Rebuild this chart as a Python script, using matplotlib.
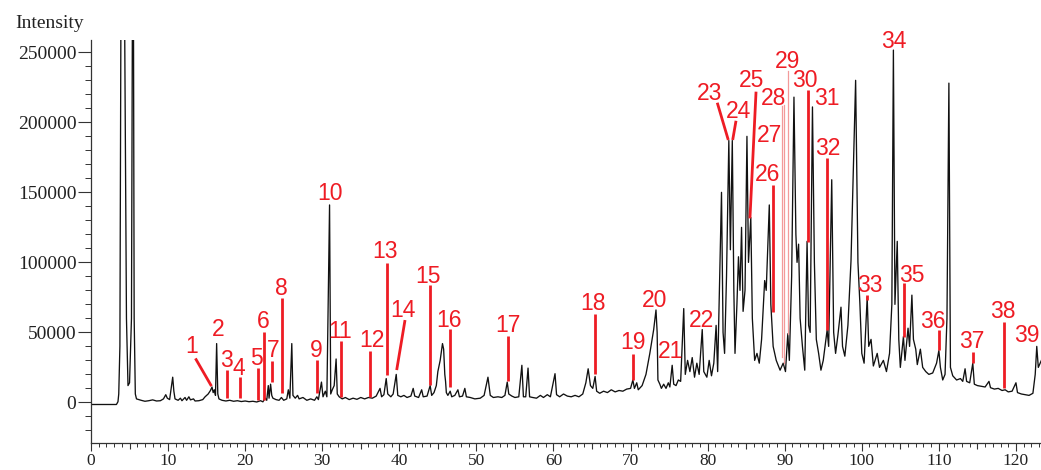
import matplotlib
matplotlib.use("Agg")
import matplotlib.pyplot as plt
from matplotlib.ticker import MultipleLocator

# ---- chromatogram trace (retention time, intensity) ----
trace_time = [
    0, 3.3, 3.5, 3.6, 3.75, 3.95, 4.2, 4.6, 4.8, 5.0, 5.25, 5.45, 5.6, 5.75, 5.9,
    6.5, 7.0, 7.5, 8.0, 8.5, 9.0, 9.4, 9.7, 9.9, 10.2, 10.45, 10.6, 10.75, 10.9,
    11.3, 11.6, 11.8, 12.2, 12.4, 12.7, 12.9, 13.3, 13.5, 14.0, 14.5, 14.8, 15.2,
    15.5, 15.7, 15.85, 16.0, 16.15, 16.3, 16.45, 16.6,
    17.0, 17.5, 18.0, 18.5, 19.0, 19.5, 20.0, 20.5, 21.0, 21.5, 22.0, 22.3, 22.6,
    22.8, 23.0, 23.1, 23.3, 23.45, 23.6, 24.0, 24.4, 24.7, 25.0, 25.4, 25.6, 25.8,
    26.05, 26.2, 26.5, 26.8, 27.0, 27.5, 28.0, 28.5, 29.0, 29.3, 29.5, 29.9, 30.1,
    30.4, 30.6, 30.95, 31.1, 31.3, 31.55, 31.8, 31.95, 32.2, 32.6, 33.0, 33.5, 34.0,
    34.5, 35.0, 35.5, 36.0, 36.5, 37.0, 37.5, 37.7, 38.0, 38.3, 38.5, 38.9, 39.2,
    39.6, 39.8, 40.2, 40.6, 41.0, 41.5, 41.8, 42.0, 42.5, 42.9, 43.1, 43.6, 44.0,
    44.2, 44.5, 44.8, 45.0, 45.3, 45.6, 45.75, 45.9, 46.0, 46.1, 46.3, 46.6, 46.8,
    47.2, 47.6, 47.8, 48.2, 48.5, 48.7, 49.2, 49.8, 50.5, 51.0, 51.5, 51.8, 52.2,
    52.8, 53.3, 53.7, 54.0, 54.2, 54.6, 55.0, 55.5, 55.9, 56.1, 56.4, 56.7, 56.9,
    57.3, 57.8, 58.3, 58.7, 59.2, 59.6, 60.2, 60.4, 60.8, 61.3, 61.8, 62.3, 62.8,
    63.3, 63.8, 64.2, 64.5, 64.8, 65.1, 65.4, 65.6, 66.0, 66.5, 67.0, 67.5, 68.0,
    68.5, 69.0, 69.5, 70.0, 70.3, 70.5, 70.8, 71.0, 71.5, 72.0, 72.5, 73.0, 73.3,
    73.45, 73.55, 73.8, 74.0, 74.3, 74.6, 74.9, 75.1, 75.4, 75.6, 75.9, 76.2, 76.5,
    76.9, 77.1, 77.4, 77.7, 78.0, 78.3, 78.6, 78.9, 79.3, 79.5, 79.9, 80.2, 80.5,
    80.8, 81.1, 81.3, 81.8, 82.0, 82.2, 82.45, 82.75, 82.95, 83.2, 83.4, 83.55,
    83.8, 84.0, 84.2, 84.4, 84.6, 84.85, 85.1, 85.3, 85.6, 85.8, 86.1, 86.4, 86.7,
    87.0, 87.4, 87.6, 88.0, 88.2, 88.5, 88.9, 89.4, 89.8, 90.1, 90.4, 90.6, 90.9,
    91.2, 91.45, 91.6, 91.8, 92.0, 92.3, 92.6, 92.9, 93.1, 93.3, 93.6, 93.85, 94.1,
    94.4, 94.7, 95.0, 95.5, 95.7, 96.1, 96.35, 96.6, 96.9, 97.3, 97.5, 97.8, 98.2,
    98.6, 99.2, 99.5, 99.75, 100.0, 100.3, 100.7, 100.9, 101.2, 101.5, 102.0, 102.3,
    102.8, 103.2, 103.6, 103.9, 104.1, 104.3, 104.6, 104.8, 105.0, 105.4, 105.6,
    106.0, 106.2, 106.5, 106.7, 107.0, 107.2, 107.6, 107.9, 108.3, 108.7, 109.2,
    109.7, 110.0, 110.2, 110.5, 110.8, 111.05, 111.3, 111.5, 111.8, 112.3, 112.8,
    113.1, 113.4, 113.6, 114.0, 114.4, 114.6, 115.0, 115.5, 116.0, 116.5, 116.7,
    117.2, 117.7, 118.2, 118.6, 119.0, 119.5, 120.0, 120.2, 120.7, 121.2, 121.7,
    122.2, 122.5, 122.7, 122.9, 123.3,
]
trace_intensity = [
    -1500, -1500, 500, 6000, 40000, 400000, 420000, 60000, 12000, 14000, 60000, 420000, 60000, 6000, 2500,
    1500, 800, 1200, 1800, 1000, 1200, 2500, 5500, 3000, 2000, 12000, 18000, 8000, 2500,
    1500, 3000, 1200, 3500, 1500, 4000, 1800, 2500, 1000, 1200, 2000, 4000, 6000,
    8500, 11000, 7000, 9000, 5000, 42000, 6000, 2500,
    1500, 1000, 1500, 800, 1200, 600, 1000, 500, 800, 300, 1200, 400, 3000,
    1500, 12000, 3000, 13000, 5000, 3000, 2000, 1500, 3500, 1500, 2500, 9000, 3000,
    42000, 5000, 3000, 5000, 2500, 3500, 1500, 2500, 1500, 4000, 2000, 14500, 4000,
    8000, 4000, 141000, 6000, 9000, 12000, 31000, 6000, 4000, 2500, 3500, 2000, 3000,
    2200, 3500, 2500, 3500, 3000, 4500, 10000, 4000, 5500, 17000, 6000, 4000, 6000,
    20000, 5000, 4000, 5000, 3500, 4500, 10000, 4500, 3500, 9000, 4000, 4500, 12000,
    5000, 7000, 12000, 22000, 30000, 42000, 38000, 20000, 15000, 7000, 5000, 8000, 4000,
    5000, 9000, 4000, 4500, 10000, 4000, 3500, 2500, 3000, 5000, 18000, 5000, 3500,
    4000, 3500, 5000, 14500, 6000, 4500, 3500, 4000, 26500, 4000, 4000, 24500, 4000,
    3500, 3000, 5000, 3500, 5500, 4000, 20500, 5500, 4000, 6000, 4500, 4000, 5000,
    4000, 6000, 14000, 24000, 12000, 10000, 18500, 8000, 6500, 8000, 7000, 9000, 7500,
    8500, 8000, 9500, 10000, 16000, 10000, 14000, 9000, 12000, 20000, 35000, 52000, 66000,
    50000, 16000, 13000, 10000, 13000, 10000, 14000, 11000, 26500, 13000, 12000, 16000, 15000,
    67000, 20000, 30000, 22000, 32000, 18000, 28000, 20000, 52000, 22000, 18000, 30000, 19000,
    28000, 55000, 22000, 150000, 50000, 35000, 90000, 187000, 109000, 187000, 80000, 35000,
    70000, 104000, 80000, 125000, 65000, 80000, 190000, 100000, 132000, 60000, 30000, 35000, 28000,
    45000, 87000, 80000, 141000, 70000, 40000, 30000, 23000, 28000, 22000, 49000, 30000, 90000,
    218000, 120000, 100000, 113000, 60000, 40000, 23000, 115000, 55000, 50000, 211000, 100000, 45000,
    35000, 23000, 30000, 51600, 40000, 159000, 50000, 35000, 48000, 68000, 40000, 33000, 55000,
    101000, 230000, 100000, 71000, 35000, 28000, 75000, 40000, 45000, 26000, 35000, 25000,
    30000, 22000, 35000, 70000, 251600, 70000, 115000, 45000, 25000, 47000, 30000,
    53000, 40000, 76600, 45000, 38000, 27000, 38000, 25000, 22000, 20000, 21000,
    28000, 37000, 25000, 16000, 20000, 60000, 228000, 25000, 19000, 16000, 17000,
    15000, 24000, 15000, 14000, 28000, 13000, 12000, 11500, 11000, 15000, 10500,
    9500, 10000, 8500, 9000, 7500, 8000, 14000, 7000, 6000, 5500, 5000,
    6500, 20000, 40000, 25000, 30000,
]

# ---- peak labels: number, label anchor (time, intensity) ----
peak_ids = [str(i) for i in range(1, 40)]
label_time = [13.06, 16.44, 17.61, 19.20, 21.50, 22.35, 23.58, 24.65, 29.28, 31.00,
              32.30, 36.42, 38.14, 40.52, 43.76, 46.48, 54.14, 65.17, 70.28, 73.17,
              75.21, 79.23, 80.22, 83.98, 85.72, 87.74, 88.09, 88.52, 90.34, 92.63,
              95.45, 95.53, 101.06, 104.09, 106.47, 109.20, 114.26, 118.36, 121.45]
label_intensity = [39700, 52100, 30200, 24300, 31400, 57600, 37400, 81400, 37400, 149300,
                   50400, 44500, 108000, 65900, 90200, 58800, 55200, 70700, 42600, 73100,
                   36100, 58800, 220700, 207600, 230200, 162400, 190900, 217100, 243300, 230200,
                   217100, 181400, 83800, 257600, 90900, 57600, 43300, 64700, 48100]

# ---- red leader lines: (t_start, y_start, t_end, y_end) ----
leader_t0 = [13.55, 17.61, 19.31, 21.63, 22.40, 23.47, 24.73, 29.28, 32.40, 36.20,
             38.40, 40.74, 43.98, 46.57, 54.06, 65.39, 70.36, 81.25, 83.68, 86.28,
             88.44, 92.98, 95.53, 100.71, 105.48, 110.05, 114.47, 118.49]
leader_y0 = [31400, 22800, 17800, 24300, 50400, 29400, 74300, 30000, 43600, 36600,
             99500, 58800, 83800, 52100, 47400, 63100, 34500, 214000, 201100, 221900,
             155200, 223100, 174300, 76600, 85000, 51600, 36100, 57600]
leader_t1 = [15.63, 17.61, 19.31, 21.63, 22.40, 23.47, 24.73, 29.28, 32.40, 36.20,
             38.40, 39.66, 43.98, 46.57, 54.06, 65.39, 70.36, 82.68, 83.25, 85.49,
             88.44, 92.98, 95.53, 100.71, 105.48, 110.05, 114.47, 118.49]
leader_y1 = [11600, 2800, 2800, 1600, 1600, 14700, 6500, 6500, 3900, 3900,
             19500, 23100, 12400, 11100, 15200, 20200, 15900, 187400, 187400, 131400,
             64700, 114700, 51600, 73100, 46900, 37400, 27900, 10000]

# thin pale leader lines (peaks 27-29)
thin_t = [89.59, 89.93, 90.49]
thin_top = [211700, 212700, 236800]
thin_bottom = [32600, 28000, 49000]

fig = plt.figure(figsize=(10.41, 4.70), dpi=100)
ax = fig.add_axes([91 / 1041, 27 / 470, 950 / 1041, 403 / 470])

ax.plot(trace_time, trace_intensity, color="#111111", lw=0.95, zorder=2)

red = "#ee1c24"
for t0, y0, t1, y1 in zip(leader_t0, leader_y0, leader_t1, leader_y1):
    ax.plot([t0, t1], [y0, y1], color=red, lw=2.0, solid_capstyle="butt", zorder=3)
for t, yt, yb in zip(thin_t, thin_top, thin_bottom):
    ax.plot([t, t], [yb, yt], color="#f39a9a", lw=0.9, zorder=3)

for pid, t, y in zip(peak_ids, label_time, label_intensity):
    ax.text(t, y, pid, color=red, fontsize=16.5, family="Liberation Sans",
            ha="center", va="center", zorder=4, clip_on=False)

ax.set_xlim(0, 123.25)
ax.set_ylim(-29000, 258800)
for s in ("top", "right"):
    ax.spines[s].set_visible(False)
for s in ("left", "bottom"):
    ax.spines[s].set_linewidth(0.9)
    ax.spines[s].set_color("#333333")

ax.xaxis.set_major_locator(MultipleLocator(10))
ax.xaxis.set_minor_locator(MultipleLocator(1))
ax.yaxis.set_major_locator(MultipleLocator(50000))
ax.yaxis.set_minor_locator(MultipleLocator(10000))
ax.set_yticks([0, 50000, 100000, 150000, 200000, 250000])
ax.tick_params(axis="x", which="major", length=6, width=0.8, pad=1.5, color="#333333")
ax.tick_params(axis="x", which="minor", length=3, width=0.7, color="#333333")
ax.tick_params(axis="y", which="major", length=9.5, width=0.8, pad=1, color="#333333")
ax.tick_params(axis="y", which="minor", length=4.5, width=0.7, color="#333333")
for lab in ax.get_xticklabels():
    lab.set_family("Liberation Serif")
    lab.set_fontsize(12.5)
    lab.set_color("#222222")
for lab in ax.get_yticklabels():
    lab.set_family("Liberation Serif")
    lab.set_fontsize(14)
    lab.set_color("#222222")

# medium ticks at every 5 units on the time axis
sec = ax.secondary_xaxis("bottom")
sec.set_xticks(list(range(5, 125, 10)))
sec.tick_params(axis="x", length=4.5, width=0.8, labelbottom=False, color="#333333")
sec.spines["bottom"].set_visible(False)

fig.text(50 / 1041, 1 - 24 / 470, "Intensity", family="Liberation Serif",
         fontsize=14, color="#222222", ha="center", va="center")

fig.savefig("out.png", dpi=100)
